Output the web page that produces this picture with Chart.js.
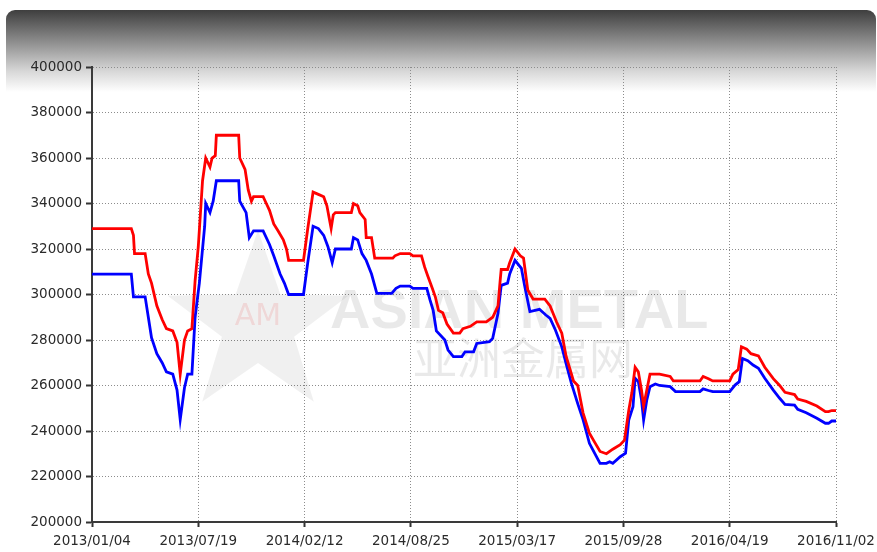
<!DOCTYPE html>
<html lang="en">
<head>
  <meta charset="utf-8"/>
  <title>Price chart</title>
  <script src="https://cdn.jsdelivr.net/npm/chart.js"></script>
  <style>
    body { margin: 0; background: #fff; }
    #chart { width: 877px; height: 552px; }
  </style>
</head>
<body>
<div id="chart">
  <canvas id="my_chart" width="877" height="552"></canvas>
</div>
<script>
// tick labels, one per 100 index units on the x axis
var tickLabels = ['2013/01/04', '2013/07/19', '2014/02/12', '2014/08/25',
                  '2015/03/17', '2015/09/28', '2016/04/19', '2016/11/02'];

// red series (high)
var redX = [0, 37, 39, 40, 50, 53, 56, 61, 66, 70, 76, 80, 83, 87, 90, 94, 97, 100, 104, 107,
  111, 113, 116, 117, 138, 139, 144, 147, 150, 152, 161, 164, 167, 171, 175, 180, 183, 185, 199, 203,
  208, 213, 218, 221, 225, 227, 229, 244, 246, 250, 252, 257, 258, 263, 266, 283, 285, 290, 299, 302,
  310, 313, 316, 320, 323, 326, 330, 334, 340, 346, 349, 356, 362, 371, 377, 382, 384, 385, 391, 393,
  398, 403, 406, 410, 415, 426, 431, 437, 442, 446, 453, 457, 462, 468, 473, 478, 484, 490, 497, 501,
  505, 508, 511, 514, 517, 519, 522, 525, 530, 534, 544, 547, 572, 575, 580, 584, 600, 603, 608, 611,
  616, 620, 627, 633, 641, 647, 652, 661, 664, 672, 682, 690, 693, 696, 700];
var redY = [329000, 329000, 326000, 318000, 318000, 309000, 305000, 295000, 289000, 285000,
  284000, 279000, 265000, 280000, 284000, 285000, 306000, 321000, 350000, 360000,
  356000, 360000, 361000, 370000, 370000, 360000, 355000, 346000, 341000, 343000,
  343000, 340000, 337000, 331000, 328000, 324000, 320000, 315000, 315000, 329000,
  345000, 344000, 343000, 339000, 329000, 335000, 336000, 336000, 340000, 339000,
  336000, 333000, 325000, 325000, 316000, 316000, 317000, 318000, 318000, 317000,
  317000, 312000, 308000, 303000, 299000, 293000, 292000, 287000, 283000, 283000,
  285000, 286000, 288000, 288000, 290000, 295000, 306000, 311000, 311000, 314000,
  320000, 317000, 316000, 302000, 298000, 298000, 295000, 288000, 283000, 273000,
  262000, 260000, 248000, 239000, 235000, 231000, 230000, 232000, 234000, 236000,
  249000, 257000, 268000, 266000, 258000, 251000, 258000, 265000, 265000, 265000,
  264000, 262000, 262000, 264000, 263000, 262000, 262000, 265000, 267000, 277000,
  276000, 274000, 273000, 268000, 263000, 260000, 257000, 256000, 254000, 253000,
  251000, 248500, 248500, 249000, 249000];

// blue series (low)
var blueX = [0, 37, 39, 50, 53, 56, 61, 66, 70, 76, 80, 83, 87, 90, 94, 97, 101, 106, 107, 111,
  114, 117, 138, 139, 145, 148, 152, 161, 167, 171, 177, 181, 185, 199, 203, 208, 213, 218, 222, 226,
  229, 244, 246, 250, 254, 258, 263, 268, 282, 286, 290, 299, 302, 315, 318, 321, 324, 332, 335, 340,
  348, 351, 359, 362, 374, 377, 382, 385, 391, 393, 398, 404, 407, 412, 421, 427, 431, 436, 442, 446,
  451, 457, 462, 468, 473, 478, 484, 487, 490, 497, 502, 505, 509, 511, 514, 517, 519, 522, 525, 530,
  534, 544, 549, 572, 575, 580, 584, 600, 605, 609, 612, 617, 622, 627, 633, 641, 647, 652, 661, 664,
  672, 682, 690, 693, 696, 700];
var blueY = [309000, 309000, 299000, 299000, 290000, 281000, 274000, 270000, 266000, 265000,
  258000, 245000, 259000, 265000, 265000, 290000, 305000, 330000, 340000, 336000,
  341000, 350000, 350000, 341000, 336000, 325000, 328000, 328000, 322000, 317000,
  309000, 305000, 300000, 300000, 314000, 330000, 329000, 326000, 321000, 314000,
  320000, 320000, 325000, 324000, 318000, 315000, 309000, 300500, 300500, 302700,
  303700, 303700, 302700, 302700, 297600, 293000, 284000, 280000, 275600, 272700,
  272700, 274800, 274800, 278500, 279300, 280700, 291700, 304000, 305000, 309000,
  315000, 311500, 304000, 292500, 293500, 291000, 289500, 284400, 277000, 269700,
  261000, 252000, 245000, 234600, 230200, 225800, 225800, 226500, 225800, 228700,
  230200, 244800, 250700, 263200, 261700, 253700, 244800, 253700, 259500, 260700,
  260000, 259500, 257300, 257300, 258500, 257800, 257300, 257300, 260200, 261700,
  271900, 270900, 269000, 267600, 263200, 258000, 254400, 251700, 251400, 249500,
  248000, 245600, 243400, 243400, 244400, 244400];

function toPoints(xs, ys) {
  return xs.map((x, i) => ({ x: x, y: ys[i] }));
}

// dark gradient band at the top and the faded watermark behind the lines
const backdrop = {
  id: 'backdrop',
  beforeDraw(chart) {
    const ctx = chart.ctx;
    ctx.save();
    const g = ctx.createLinearGradient(0, 10, 0, 92);
    g.addColorStop(0, '#3e3e3e');
    g.addColorStop(0.45, '#9a9a9a');
    g.addColorStop(0.75, '#d8d8d8');
    g.addColorStop(1, '#ffffff');
    ctx.fillStyle = g;
    ctx.beginPath();
    ctx.roundRect(6, 10, 870, 82, [9, 9, 0, 0]);
    ctx.fill();
    ctx.restore();
  },
  beforeDatasetsDraw(chart) {
    const ctx = chart.ctx;
    ctx.save();
    // star
    const cx = 258, cy = 325, ro = 95, ri = 38;
    ctx.beginPath();
    for (let i = 0; i < 10; i++) {
      const r = i % 2 ? ri : ro;
      const a = -Math.PI / 2 + i * Math.PI / 5;
      const px = cx + r * Math.cos(a), py = cy + r * Math.sin(a);
      if (i === 0) ctx.moveTo(px, py); else ctx.lineTo(px, py);
    }
    ctx.closePath();
    ctx.fillStyle = 'rgba(0,0,0,0.06)';
    ctx.fill();
    ctx.fillStyle = 'rgba(230,60,60,0.14)';
    ctx.font = '30px "DejaVu Sans"';
    ctx.textAlign = 'center';
    ctx.textBaseline = 'middle';
    ctx.fillText('AM', cx, cy - 8);
    ctx.fillStyle = 'rgba(0,0,0,0.085)';
    ctx.textAlign = 'left';
    ctx.textBaseline = 'alphabetic';
    ctx.font = 'bold 56px "Liberation Sans"';
    ctx.fillText('ASIAN METAL', 330, 328);
    ctx.font = '44px "Noto Sans CJK SC"';
    ctx.fillText('亚洲金属网', 413, 375);
    ctx.restore();
  }
};

window.onload = function () {
  const font = { family: '"DejaVu Sans"', size: 13.5 };
  const config = {
    type: 'line',
    data: {
      datasets: [
        { label: 'red', data: toPoints(redX, redY), borderColor: '#ff0000', borderWidth: 2.8,
          pointRadius: 0, tension: 0, fill: false },
        { label: 'blue', data: toPoints(blueX, blueY), borderColor: '#0000ff', borderWidth: 2.8,
          pointRadius: 0, tension: 0, fill: false }
      ]
    },
    options: {
      responsive: false,
      animation: false,
      layout: { padding: { top: 67, right: 41, left: 0, bottom: 0 } },
      plugins: {
        legend: { display: false },
        tooltip: { enabled: false }
      },
      scales: {
        x: {
          type: 'linear',
          min: 0,
          max: 700,
          afterFit: (s) => { s.height = 30; s.paddingLeft = 0; s.paddingRight = 0; },
          ticks: {
            stepSize: 100,
            autoSkip: false,
            maxRotation: 0,
            padding: 6,
            color: '#2a2a2a',
            font: font,
            callback: (v) => tickLabels[v / 100]
          },
          grid: { color: '#8c8c8c', tickLength: 5, tickColor: '#333', tickWidth: 2, tickBorderDash: [] },
          border: { display: true, color: '#3a3a3a', width: 2, dash: [1, 2] }
        },
        y: {
          min: 200000,
          max: 400000,
          afterFit: (s) => { s.width = 92; s.paddingTop = 0; s.paddingBottom = 0; },
          ticks: {
            stepSize: 20000,
            padding: 4,
            color: '#2a2a2a',
            font: font,
            callback: (v) => String(v)
          },
          grid: { color: '#8c8c8c', tickLength: 6, tickColor: '#333', tickWidth: 2, tickBorderDash: [] },
          border: { display: true, color: '#3a3a3a', width: 2, dash: [1, 2] }
        }
      }
    },
    plugins: [backdrop]
  };

  const ctx = document.getElementById('my_chart').getContext('2d');
  new Chart(ctx, config);
};
</script>
</body>
</html>
